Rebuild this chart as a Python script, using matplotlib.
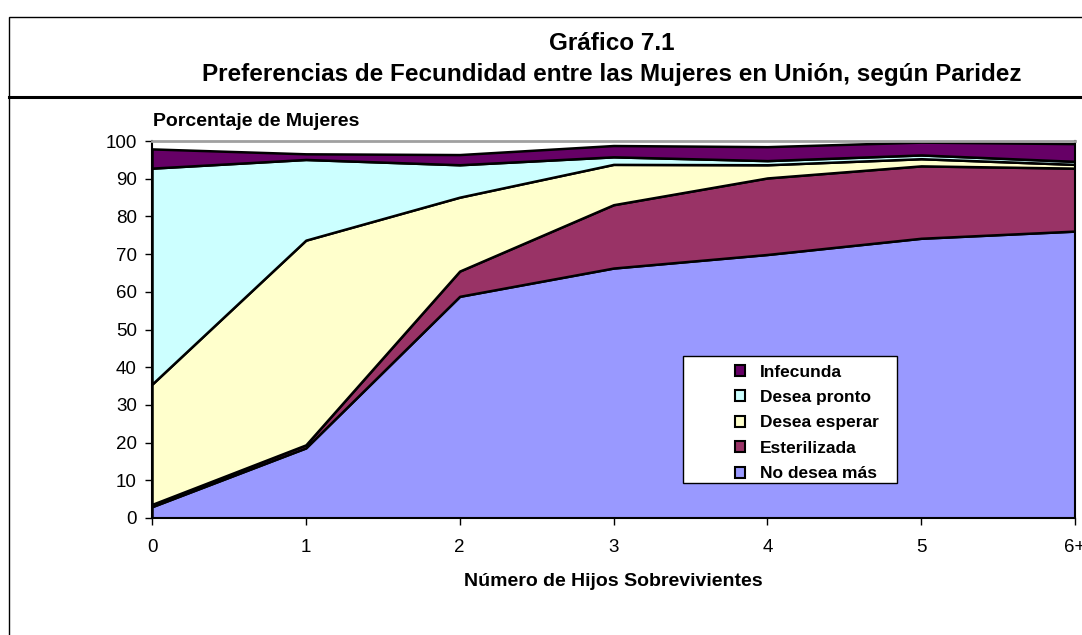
import matplotlib.pyplot as plt
from matplotlib.patches import Patch, Rectangle
from matplotlib.lines import Line2D

plt.rcParams['font.family'] = ['Liberation Sans', 'DejaVu Sans']

# Número de hijos sobrevivientes
hijos = ['0', '1', '2', '3', '4', '5', '6+']

# percentage of women in each category (stacked, bottom to top)
no_desea_mas = [3.0, 18.6, 58.8, 66.3, 69.9, 74.2, 76.1]
esterilizada = [0.6, 0.8, 6.7, 16.8, 20.3, 19.2, 16.7]
desea_esperar = [31.9, 54.3, 19.6, 10.7, 3.5, 1.9, 1.0]
desea_pronto = [57.3, 21.4, 8.6, 2.0, 1.1, 1.0, 0.8]
infecunda = [5.1, 1.5, 2.7, 3.0, 3.7, 3.4, 4.7]

series = [no_desea_mas, esterilizada, desea_esperar, desea_pronto, infecunda]
labels = ['No desea más', 'Esterilizada', 'Desea esperar', 'Desea pronto', 'Infecunda']
colors = ['#9999ff', '#993366', '#ffffcc', '#ccffff', '#660066']

W, H = 1082, 635
fig = plt.figure(figsize=(W / 100, H / 100), dpi=100)

# outer frame and title separator
fig.patches.append(Rectangle((9 / W, -0.1), 1.2, 1.1 - 17 / H, transform=fig.transFigure,
                             fill=False, edgecolor='black', linewidth=1.0))
fig.lines.append(Line2D([9 / W, 1.0], [1 - 97 / H, 1 - 97 / H], transform=fig.transFigure,
                        color='black', linewidth=2.2))

fig.text(612 / W, 1 - 43 / H, 'Gráfico 7.1', ha='center', va='center',
         fontsize=17.5, fontweight='bold')
fig.text(612 / W, 1 - 75 / H, 'Preferencias de Fecundidad entre las Mujeres en Unión, según Paridez',
         ha='center', va='center', fontsize=17.5, fontweight='bold')

ax = fig.add_axes([152 / W, 1 - 518 / H, (1075 - 152) / W, (518 - 141) / H])
x = list(range(len(hijos)))
ax.stackplot(x, *series, colors=colors, edgecolor='black', linewidth=1.8)

ax.set_xlim(0, 6)
ax.set_ylim(0, 100)
ax.set_xticks(x)
ax.set_xticklabels(hijos)
ax.set_yticks(range(0, 101, 10))
ax.tick_params(labelsize=13.5, length=5, width=1, direction='out')
ax.tick_params(axis='x', pad=10)
ax.tick_params(axis='y', pad=6)
for s in ['left', 'bottom', 'right']:
    ax.spines[s].set_linewidth(1.5)
ax.spines['top'].set_color('#a0a0a0')
ax.spines['top'].set_linewidth(2)

fig.text(153 / W, 1 - 122 / H, 'Porcentaje de Mujeres', ha='left', va='center',
         fontsize=14, fontweight='bold')
fig.text(613 / W, 1 - 581 / H, 'Número de Hijos Sobrevivientes', ha='center', va='center',
         fontsize=14, fontweight='bold')

# legend box
fig.patches.append(Rectangle((683 / W, 1 - 483 / H), (897 - 683) / W, (483 - 356) / H,
                             transform=fig.transFigure, facecolor='white', edgecolor='black',
                             linewidth=1.0, zorder=5))
handles = [Patch(facecolor=c, edgecolor='black', linewidth=1.5) for c in colors]
leg = fig.legend(handles[::-1], labels[::-1], loc='upper left',
                 bbox_to_anchor=(719 / W, 1 - 349 / H), frameon=False,
                 handlelength=0.6, handleheight=0.6, handletextpad=0.85,
                 labelspacing=0.6, prop={'size': 12.5, 'weight': 'bold'})
leg.set_zorder(6)

plt.savefig('out.png', dpi=100)
plt.close()
